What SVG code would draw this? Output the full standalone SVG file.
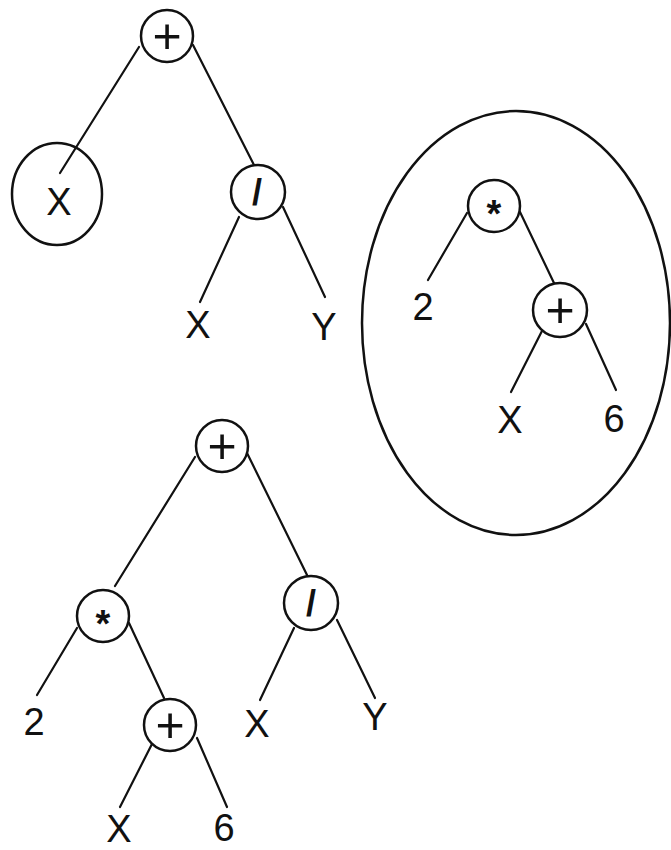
<svg xmlns="http://www.w3.org/2000/svg" width="671" height="850" viewBox="0 0 671 850">
<style>
.n{fill:#fff;stroke:#111;stroke-width:2.5}
.hl{fill:none;stroke:#111;stroke-width:2.5}
.e{stroke:#111;stroke-width:2.2;fill:none;stroke-linecap:round}
.t{font-family:"Liberation Sans",Arial,sans-serif;font-size:38px;fill:#111;text-anchor:middle}
.p{font-family:"Liberation Sans",Arial,sans-serif;font-size:50px;fill:#111;text-anchor:middle}
.s{font-family:"Liberation Sans",Arial,sans-serif;font-size:38px;fill:#111;text-anchor:middle;font-weight:bold}
.d{font-family:"Liberation Sans",Arial,sans-serif;font-size:36px;fill:#111;text-anchor:middle;font-weight:bold}
</style>
<rect width="671" height="850" fill="#fff"/>
<g id="highlights">
<ellipse class="hl" cx="57" cy="194" rx="45" ry="51"/>
<ellipse class="hl" cx="516" cy="323" rx="154" ry="212"/>
</g>
<g id="connectors">
<line class="e" x1="139" y1="47" x2="60" y2="173"/>
<line class="e" x1="193" y1="45" x2="254" y2="165"/>
<line class="e" x1="239" y1="217" x2="200" y2="302"/>
<line class="e" x1="283" y1="207" x2="325" y2="297"/>
<line class="e" x1="467" y1="213" x2="428" y2="280"/>
<line class="e" x1="520" y1="212" x2="554" y2="283"/>
<line class="e" x1="544" y1="327" x2="511" y2="392"/>
<line class="e" x1="586" y1="324" x2="616" y2="390"/>
<line class="e" x1="195" y1="457" x2="115" y2="586"/>
<line class="e" x1="247" y1="453" x2="308" y2="577"/>
<line class="e" x1="77" y1="628" x2="37" y2="695"/>
<line class="e" x1="129" y1="623" x2="164" y2="698"/>
<line class="e" x1="153" y1="742" x2="120" y2="807"/>
<line class="e" x1="197" y1="738" x2="227" y2="807"/>
<line class="e" x1="294" y1="628" x2="260" y2="700"/>
<line class="e" x1="337" y1="620" x2="375" y2="698"/>
</g>
<!-- tree 1 -->
<g id="t1-plus"><circle class="n" cx="167" cy="36" r="26"/><text class="p" x="167" y="53">+</text></g>
<g id="t1-x"><text class="t" x="59" y="215">X</text></g>
<g id="t1-div"><circle class="n" cx="258" cy="192" r="27"/><text class="d" x="257" y="205">/</text></g>
<g id="t1-x2"><text class="t" x="198" y="338">X</text></g>
<g id="t1-y"><text class="t" x="324" y="340">Y</text></g>
<!-- tree 2 -->
<g id="t2-mul"><circle class="n" cx="494" cy="206" r="26"/><text class="s" x="494" y="227">*</text></g>
<g id="t2-2"><text class="t" x="423" y="320">2</text></g>
<g id="t2-plus"><circle class="n" cx="560" cy="310" r="27"/><text class="p" x="560" y="327">+</text></g>
<g id="t2-x"><text class="t" x="510" y="433">X</text></g>
<g id="t2-6"><text class="t" x="614" y="432">6</text></g>
<!-- tree 3 -->
<g id="t3-plus"><circle class="n" cx="222" cy="446" r="26"/><text class="p" x="222" y="463">+</text></g>
<g id="t3-mul"><circle class="n" cx="103" cy="616" r="26"/><text class="s" x="103" y="637">*</text></g>
<g id="t3-2"><text class="t" x="34" y="735">2</text></g>
<g id="t3-plus2"><circle class="n" cx="170" cy="725" r="26"/><text class="p" x="170" y="742">+</text></g>
<g id="t3-x"><text class="t" x="119" y="842">X</text></g>
<g id="t3-6"><text class="t" x="224" y="841">6</text></g>
<g id="t3-div"><circle class="n" cx="311" cy="603" r="27"/><text class="d" x="311" y="616">/</text></g>
<g id="t3-x2"><text class="t" x="257" y="737">X</text></g>
<g id="t3-y"><text class="t" x="375" y="730">Y</text></g>
</svg>
